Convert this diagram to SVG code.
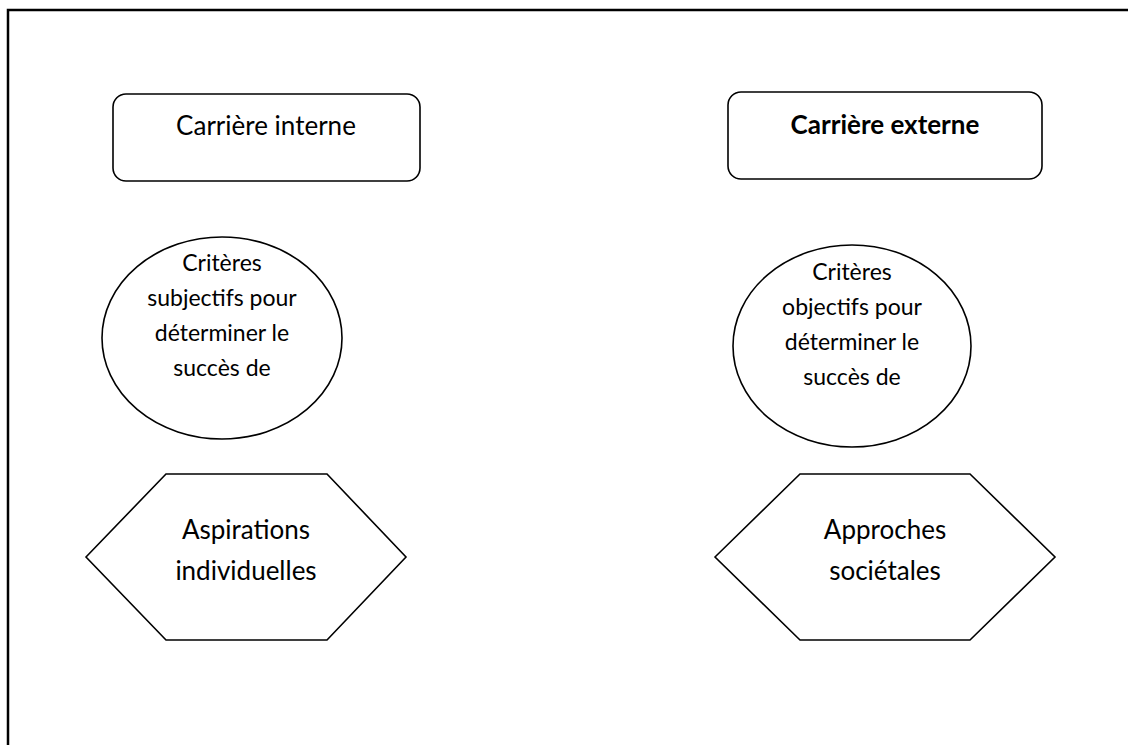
<svg xmlns="http://www.w3.org/2000/svg" width="1128" height="745" viewBox="0 0 1128 745">
<style>
.s{fill:#fff;stroke:#000;stroke-width:1.6}
.t{font-family:Lato,"Liberation Sans",sans-serif;font-size:26px;fill:#000;text-anchor:middle}
.e{font-size:23px}
.b{font-weight:bold}
</style>
<rect width="1128" height="745" fill="#fff"/>
<path d="M8,745 V10 H1128" fill="none" stroke="#000" stroke-width="2.5"/>
<g id="connectors"></g>
<g id="box-interne">
<rect class="s" x="113" y="94" width="307" height="87" rx="13"/>
<text class="t" x="266" y="135">Carrière interne</text>
</g>
<g id="box-externe">
<rect class="s" x="728" y="92" width="314" height="87" rx="13"/>
<text class="t b" x="885" y="134">Carrière externe</text>
</g>
<g id="ellipse-subjectifs">
<ellipse class="s" cx="222" cy="338" rx="120" ry="101"/>
<text class="t e"><tspan x="222" y="271">Critères</tspan><tspan x="222" y="306">subjectifs pour</tspan><tspan x="222" y="341">déterminer le</tspan><tspan x="222" y="376">succès de</tspan></text>
</g>
<g id="ellipse-objectifs">
<ellipse class="s" cx="852" cy="346" rx="119" ry="101"/>
<text class="t e"><tspan x="852" y="280">Critères</tspan><tspan x="852" y="315">objectifs pour</tspan><tspan x="852" y="350">déterminer le</tspan><tspan x="852" y="385">succès de</tspan></text>
</g>
<g id="hex-aspirations">
<polygon class="s" points="86,557 166,474 327,474 406,557 327,640 166,640"/>
<text class="t"><tspan x="246" y="539">Aspirations</tspan><tspan x="246" y="580">individuelles</tspan></text>
</g>
<g id="hex-approches">
<polygon class="s" points="715,557 800,474 970,474 1055,557 970,640 800,640"/>
<text class="t"><tspan x="885" y="539">Approches</tspan><tspan x="885" y="580">sociétales</tspan></text>
</g>
</svg>
